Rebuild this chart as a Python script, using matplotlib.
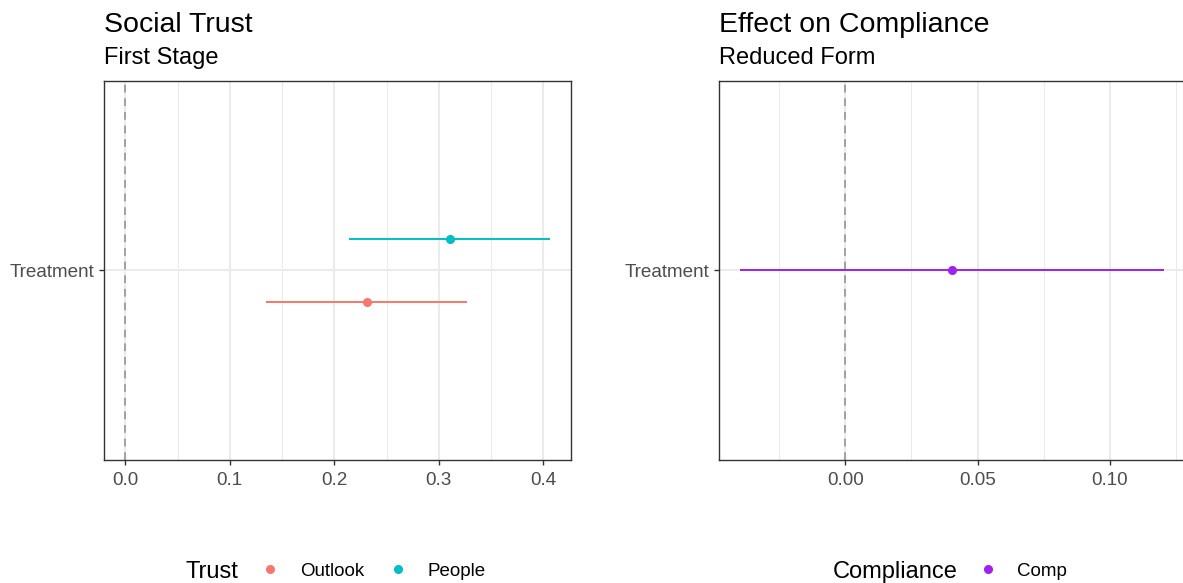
import matplotlib
matplotlib.use("Agg")
import matplotlib.pyplot as plt
from matplotlib.lines import Line2D
from matplotlib.ticker import MultipleLocator, FormatStrFormatter

plt.rcParams['font.family'] = ['Liberation Sans', 'DejaVu Sans']

# data
terms = ["Treatment"]

trust_groups = ["Outlook", "People"]
trust_est = [0.231, 0.311]
trust_lo = [0.135, 0.214]
trust_hi = [0.327, 0.406]
trust_colors = ["#F8766D", "#00BFC4"]

comp_groups = ["Comp"]
comp_est = [0.0402]
comp_lo = [-0.0398]
comp_hi = [0.1205]
comp_colors = ["#A020F0"]

W, H = 1183, 583
fig = plt.figure(figsize=(W / 100, H / 100), dpi=100)
fig.patch.set_facecolor("white")


def px_rect(x0, y0, x1, y1):
    return [x0 / W, 1 - y1 / H, (x1 - x0) / W, (y1 - y0) / H]


def draw_panel(rect, groups, est, lo, hi, colors, major, minor, fmt):
    ax = fig.add_axes(rect)
    n = len(groups)
    for i, g in enumerate(groups):
        y = 1 + (i - (n - 1) / 2) * 0.2
        ax.plot([lo[i], hi[i]], [y, y], color=colors[i], lw=1.4,
                solid_capstyle="butt", zorder=3)
        ax.plot([est[i]], [y], "o", color=colors[i], ms=5.5, zorder=4)
    ax.axvline(0, color="#A0A0A0", lw=1.4, ls=(0, (4, 3)), zorder=2)

    lo_all = min(min(lo), 0)
    hi_all = max(max(hi), 0)
    pad = 0.05 * (hi_all - lo_all)
    ax.set_xlim(lo_all - pad, hi_all + pad)
    ax.set_ylim(0.4, 0.4 + 1.2 * len(terms))

    ax.xaxis.set_major_locator(MultipleLocator(major))
    ax.xaxis.set_minor_locator(MultipleLocator(minor))
    ax.xaxis.set_major_formatter(FormatStrFormatter(fmt))
    ax.set_yticks(range(1, len(terms) + 1))
    ax.set_yticklabels(terms)

    ax.set_axisbelow(True)
    ax.grid(which="major", color="#EBEBEB", lw=1.4)
    ax.grid(which="minor", axis="x", color="#EBEBEB", lw=0.7)
    for s in ax.spines.values():
        s.set_color("#333333")
        s.set_linewidth(1.0)
    ax.tick_params(which="major", length=3.8, width=1.0, color="#333333",
                   labelcolor="#4D4D4D", labelsize=13.6, pad=3)
    ax.tick_params(axis="x", which="major", pad=5)
    ax.tick_params(which="minor", length=0)
    return ax


ax1 = draw_panel(px_rect(104, 81, 571, 460), trust_groups, trust_est,
                 trust_lo, trust_hi, trust_colors, 0.1, 0.05, "%.1f")
ax2 = draw_panel(px_rect(719, 81, 1185, 460), comp_groups, comp_est,
                 comp_lo, comp_hi, comp_colors, 0.05, 0.025, "%.2f")

# titles
fig.text(104 / W, 1 - 32 / H, "Social Trust", fontsize=20.5, va="baseline")
fig.text(104 / W, 1 - 64 / H, "First Stage", fontsize=17, va="baseline")
fig.text(719 / W, 1 - 32 / H, "Effect on Compliance", fontsize=20.5, va="baseline")
fig.text(719 / W, 1 - 64 / H, "Reduced Form", fontsize=17, va="baseline")


def add_legend(title, title_x, handle_x, groups, colors):
    fig.text(title_x / W, 1 - 572 / H, title, fontsize=17, va="center")
    handles = [Line2D([], [], marker="o", ls="", color=c, ms=5.5) for c in colors]
    fig.legend(handles, groups, loc="center left",
               bbox_to_anchor=(handle_x / W, 1 - 571 / H),
               ncol=len(groups), frameon=False, fontsize=13.5,
               handlelength=1, handletextpad=1.07, columnspacing=1.33,
               borderpad=0, borderaxespad=0)


add_legend("Trust", 186, 261, trust_groups, trust_colors)
add_legend("Compliance", 833, 978.5, comp_groups, comp_colors)

fig.savefig("out.png", dpi=100)
